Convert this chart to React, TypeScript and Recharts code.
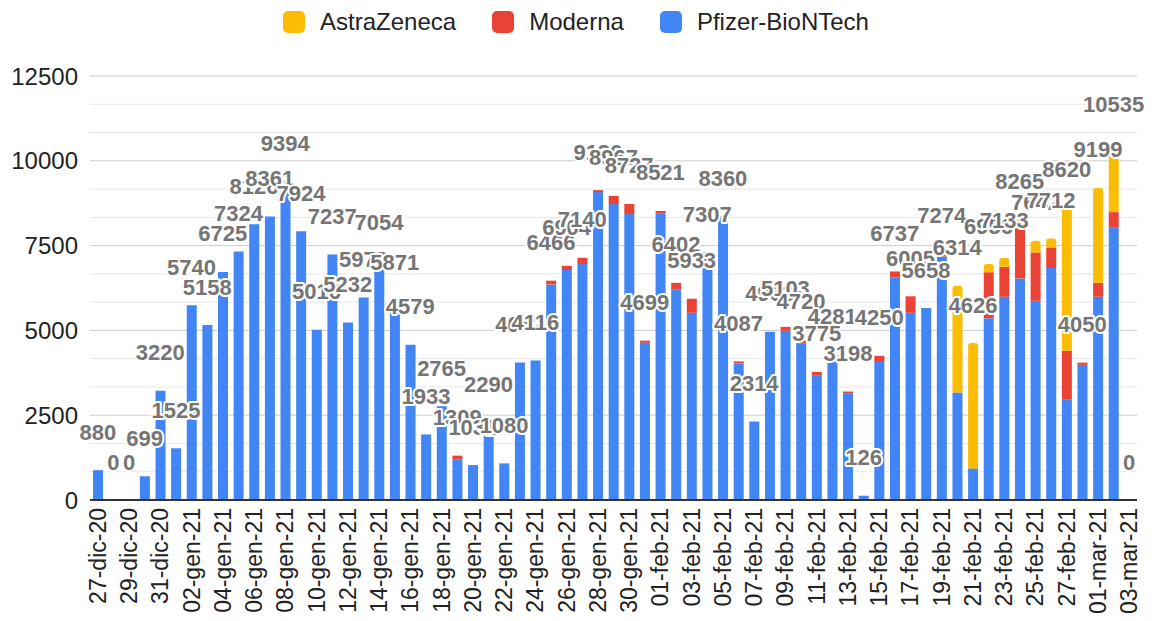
import React from 'react';
import { ComposedChart, Bar, Line, LabelList, XAxis, YAxis, CartesianGrid } from 'recharts';

const dates = [
  '27-dic-20', '28-dic-20', '29-dic-20', '30-dic-20', '31-dic-20',
  '01-gen-21', '02-gen-21', '03-gen-21', '04-gen-21', '05-gen-21', '06-gen-21', '07-gen-21', '08-gen-21',
  '09-gen-21', '10-gen-21', '11-gen-21', '12-gen-21', '13-gen-21', '14-gen-21', '15-gen-21', '16-gen-21',
  '17-gen-21', '18-gen-21', '19-gen-21', '20-gen-21', '21-gen-21', '22-gen-21', '23-gen-21', '24-gen-21',
  '25-gen-21', '26-gen-21', '27-gen-21', '28-gen-21', '29-gen-21', '30-gen-21', '31-gen-21',
  '01-feb-21', '02-feb-21', '03-feb-21', '04-feb-21', '05-feb-21', '06-feb-21', '07-feb-21', '08-feb-21',
  '09-feb-21', '10-feb-21', '11-feb-21', '12-feb-21', '13-feb-21', '14-feb-21', '15-feb-21', '16-feb-21',
  '17-feb-21', '18-feb-21', '19-feb-21', '20-feb-21', '21-feb-21', '22-feb-21', '23-feb-21', '24-feb-21',
  '25-feb-21', '26-feb-21', '27-feb-21', '28-feb-21', '01-mar-21', '02-mar-21', '03-mar-21',
];

const pfizer = [
  880, 0, 0, 699, 3220,
  1525, 5740, 5158, 6725, 7324, 8126, 8361, 9394,
  7924, 5016, 7237, 5232, 5973, 7054, 5871, 4579,
  1933, 2765, 1200, 1031, 2290, 1080, 4052, 4116,
  6356, 6780, 6955, 9077, 8723, 8428, 4636,
  8440, 6210, 5520, 7307, 8320, 4027, 2314, 4963,
  4990, 4620, 3675, 4281, 3138, 126, 4070, 6560,
  5520, 5658, 7180, 3170, 930, 5360, 5991, 6533,
  5873, 6840, 2967, 3985, 5991, 8025, 0,
];

const moderna = [
  0, 0, 0, 0, 0,
  0, 0, 0, 0, 0, 0, 0, 0,
  0, 0, 0, 0, 0, 0, 0, 0,
  0, 0, 109, 0, 0, 0, 0, 0,
  110, 124, 185, 59, 244, 299, 63,
  81, 192, 413, 0, 40, 60, 0, 0,
  113, 100, 100, 0, 60, 0, 180, 177,
  485, 0, 94, 0, 0, 1356, 885, 1482,
  1426, 590, 1433, 65, 414, 462, 0,
];

const astraZeneca = [
  0, 0, 0, 0, 0,
  0, 0, 0, 0, 0, 0, 0, 0,
  0, 0, 0, 0, 0, 0, 0, 0,
  0, 0, 0, 0, 0, 0, 0, 0,
  0, 0, 0, 0, 0, 0, 0,
  0, 0, 0, 0, 0, 0, 0, 0,
  0, 0, 0, 0, 0, 0, 0, 0,
  0, 0, 0, 3144, 3696, 240, 257, 250,
  343, 282, 4220, 0, 2794, 2048, 0,
];

const yTicks = [0, 2500, 5000, 7500, 10000, 12500];
const minorTicks = [833, 1667, 3333, 4167, 5833, 6667, 8333, 9167, 10833, 11667];

const data = dates.map((d, i) => ({
  date: d,
  pfizer: pfizer[i],
  moderna: moderna[i],
  astra: astraZeneca[i],
  total: pfizer[i] + moderna[i] + astraZeneca[i],
}));

const FONT = '"Liberation Sans", Arial, sans-serif';

const legendItems = [
  { name: 'AstraZeneca', color: '#FBBC04' },
  { name: 'Moderna', color: '#EA4335' },
  { name: 'Pfizer-BioNTech', color: '#4285F4' },
];

const XTick = (props: any) => {
  const { x, y, payload } = props;
  return (
    <text
      x={x}
      y={y}
      transform={`rotate(-90 ${x} ${y})`}
      textAnchor="end"
      dominantBaseline="central"
      fontSize={23}
      fontFamily={FONT}
      fill="#222"
    >
      {payload.value}
    </text>
  );
};

// totals sit ~38px above the top of each stack, later ones paint over earlier ones
const TotalLabel = (props: any) => {
  const vb = props.viewBox || {};
  const x = props.x ?? vb.x;
  const y = props.y ?? vb.y;
  if (x == null || y == null) return null;
  return (
    <text
      x={x}
      y={y - 38}
      textAnchor="middle"
      dominantBaseline="central"
      fontSize={22}
      fontWeight="bold"
      fontFamily={FONT}
      fill="#757575"
      stroke="#ffffff"
      strokeWidth={4}
      strokeLinejoin="round"
      paintOrder="stroke"
    >
      {props.value}
    </text>
  );
};

export default function App() {
  return (
    <div style={{ position: 'absolute', left: 0, top: 0, width: 1152, height: 621, background: '#fff', fontFamily: FONT }}>
      <div style={{ position: 'absolute', top: 0, left: 0, width: 1152, height: 44, display: 'flex', justifyContent: 'center', alignItems: 'center', gap: 36 }}>
        {legendItems.map((it) => (
          <div key={it.name} style={{ display: 'flex', alignItems: 'center', gap: 15 }}>
            <span style={{ width: 22, height: 22, borderRadius: 5, background: it.color, display: 'inline-block' }} />
            <span style={{ fontSize: 24, color: '#222' }}>{it.name}</span>
          </div>
        ))}
      </div>
      <ComposedChart
        width={1152}
        height={621}
        data={data}
        margin={{ top: 76, right: 15, bottom: 0, left: 0 }}
        barSize={10}
      >
        <CartesianGrid vertical={false} stroke="#e6e6e6" horizontalValues={minorTicks} />
        <CartesianGrid vertical={false} stroke="#cccccc" />
        <XAxis
          dataKey="date"
          interval={1}
          height={121}
          tickLine={false}
          tickSize={0}
          tickMargin={8}
          axisLine={{ stroke: '#333', strokeWidth: 2 }}
          tick={<XTick />}
        />
        <YAxis
          width={90}
          domain={[0, 12500]}
          ticks={yTicks}
          axisLine={false}
          tickLine={false}
          tickSize={6}
          tickMargin={6}
          tick={{ fill: '#222', fontSize: 24, fontFamily: FONT }}
        />
        <Bar dataKey="pfizer" stackId="a" fill="#4285F4" isAnimationActive={false} />
        <Bar dataKey="moderna" stackId="a" fill="#EA4335" isAnimationActive={false} />
        <Bar dataKey="astra" stackId="a" fill="#FBBC04" radius={[3, 3, 0, 0]} isAnimationActive={false} />
        <Line dataKey="total" stroke="none" dot={false} activeDot={false} legendType="none" isAnimationActive={false}>
          <LabelList dataKey="total" content={<TotalLabel />} />
        </Line>
      </ComposedChart>
    </div>
  );
}
